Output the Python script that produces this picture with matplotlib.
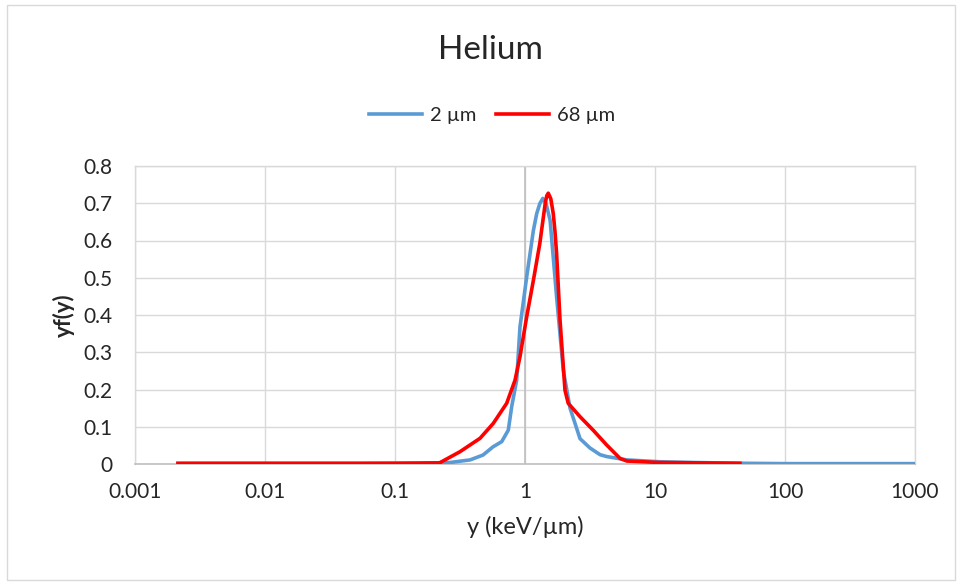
import matplotlib.pyplot as plt
from matplotlib.patches import Rectangle

plt.rcParams['font.family'] = ['Lato', 'DejaVu Sans']

# lineal energy spectra, yf(y) vs y, for two site sizes
y_2um = [0.00214, 0.01, 0.05, 0.1, 0.15, 0.265, 0.378, 0.475, 0.567, 0.662, 0.744,
         0.79, 0.863, 0.915, 1.03, 1.16, 1.23, 1.30, 1.37, 1.45, 1.56, 1.75, 1.97, 2.22,
         2.65, 3.16, 3.78, 4.25, 6.06, 10.9, 20, 45, 100, 1000]
yf_2um = [0.001, 0.001, 0.001, 0.002, 0.002, 0.004, 0.011, 0.024, 0.046, 0.060, 0.091,
          0.154, 0.225, 0.368, 0.502, 0.627, 0.672, 0.699, 0.713, 0.700, 0.654, 0.449, 0.252,
          0.150, 0.068, 0.043, 0.025, 0.020, 0.011, 0.006, 0.004, 0.002, 0.001, 0.001]

y_68um = [0.00214, 0.01, 0.1, 0.22, 0.316, 0.451, 0.57, 0.723, 0.838, 0.915, 1.03,
          1.16, 1.30, 1.43, 1.47, 1.51, 1.58, 1.65, 1.70, 1.75, 1.86, 2.03, 2.15, 2.65,
          3.34, 4.25, 5.38, 6.06, 10.9, 45]
yf_68um = [0.002, 0.002, 0.002, 0.003, 0.033, 0.069, 0.109, 0.163, 0.225, 0.288, 0.395,
           0.493, 0.592, 0.699, 0.720, 0.727, 0.712, 0.672, 0.625, 0.565, 0.386, 0.198,
           0.163, 0.127, 0.091, 0.051, 0.015, 0.008, 0.004, 0.002]

yticks = [0, 0.1, 0.2, 0.3, 0.4, 0.5, 0.6, 0.7, 0.8]
ytick_labels = ['0', '0.1', '0.2', '0.3', '0.4', '0.5', '0.6', '0.7', '0.8']
xticks = [0.001, 0.01, 0.1, 1, 10, 100, 1000]
xtick_labels = ['0.001', '0.01', '0.1', '1', '10', '100', '1000']

fig = plt.figure(figsize=(9.58, 5.83), dpi=100)
ax = fig.add_axes([135 / 958, 1 - 464 / 583, 780 / 958, 298 / 583])

# chart area frame
fig.patches.append(Rectangle((7 / 958, 3 / 583), 948 / 958, 575 / 583,
                             transform=fig.transFigure, fill=False,
                             edgecolor='#d9d9d9', linewidth=1))

ax.plot(y_2um, yf_2um, color='#5b9bd5', linewidth=2.6, label='2 µm', zorder=3,
        solid_joinstyle='round')
ax.plot(y_68um, yf_68um, color='#ff0000', linewidth=2.6, label='68 µm', zorder=4,
        solid_joinstyle='round')

ax.set_xscale('log')
ax.set_xlim(0.001, 1000)
ax.set_ylim(0, 0.8)
ax.set_xticks(xticks)
ax.set_xticklabels(xtick_labels)
ax.set_yticks(yticks)
ax.set_yticklabels(ytick_labels)
ax.minorticks_off()
ax.tick_params(length=0, labelsize=15, colors='#262626')
ax.tick_params(axis='y', pad=16)
ax.tick_params(axis='x', pad=13)

ax.grid(True, color='#d9d9d9', linewidth=1)
ax.set_axisbelow(True)
for s in ['left', 'right', 'top']:
    ax.spines[s].set_color('#d9d9d9')
    ax.spines[s].set_linewidth(1)
ax.spines['bottom'].set_color('#bfbfbf')
ax.spines['bottom'].set_linewidth(1.2)
ax.axvline(1, color='#bfbfbf', linewidth=1.2, zorder=2)

ax.set_xlabel('y (keV/µm)', fontsize=17, color='#262626', labelpad=10)
ax.set_ylabel('yf(y)', fontsize=16, fontweight='bold', color='#262626', labelpad=6)

fig.text(490 / 958, 1 - 50 / 583, 'Helium', fontsize=24, color='#262626',
         ha='center', va='center')
fig.legend(loc='center', bbox_to_anchor=(492 / 958, 1 - 115 / 583), ncol=2,
           frameon=False, fontsize=14.5, handlelength=2.6, columnspacing=1.0,
           handletextpad=0.4, labelcolor='#262626')

fig.savefig('out.png', dpi=100)
